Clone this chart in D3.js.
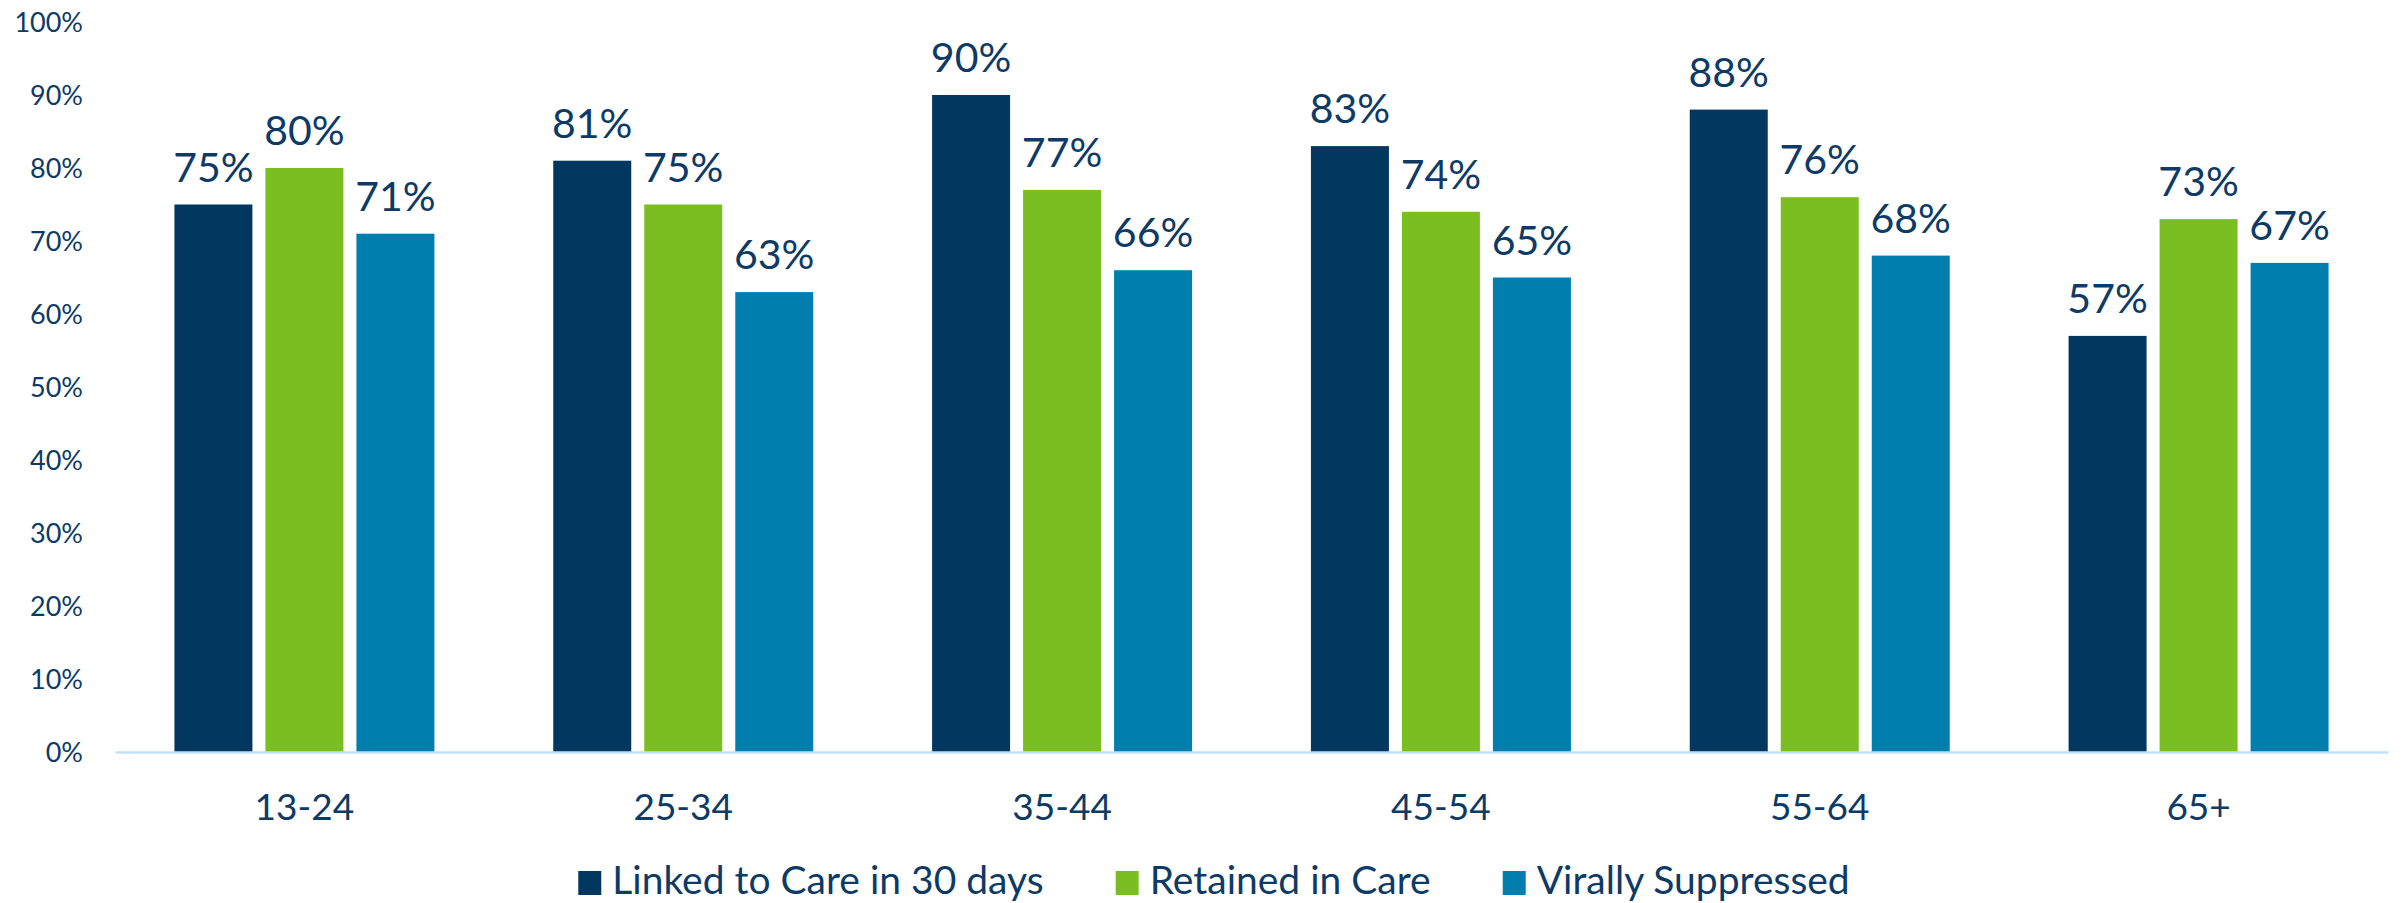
<!DOCTYPE html>
<html><head><meta charset="utf-8">
<script src="https://cdn.jsdelivr.net/npm/d3@7"></script>
<style>html,body{margin:0;padding:0;background:#fff;}svg{display:block;font-family:Lato,"Open Sans",sans-serif;}</style>
</head><body>
<svg id="chart" width="2403" height="903"></svg>
<script>
const categories = ["13-24","25-34","35-44","45-54","55-64","65+"];
const seriesNames = ["Linked to Care in 30 days","Retained in Care","Virally Suppressed"];
const linked = [75,81,90,83,88,57];
const retained = [80,75,77,74,76,73];
const suppressed = [71,63,66,65,68,67];
const yTicks = [0,10,20,30,40,50,60,70,80,90,100];
const colors = ["#02385f","#7abe22","#007faf"];
const textColor = "#0e3a66";

(function(){
const seriesValues = [linked, retained, suppressed];
const rows = categories.map((c,i)=>({cat:c, vals: seriesNames.map((s,j)=>({s, v: seriesValues[j][i], j}))}));

const svg = d3.select("#chart");
const mLeft = 115, mRight = 2388, mTop = 22, mBottom = 752;

const x0 = d3.scaleBand().domain(categories).range([mLeft,mRight]).padding(0);
const x1 = d3.scaleBand().domain(seriesNames).range([0,x0.bandwidth()]).paddingInner(0.143).paddingOuter(0.653);
const y = d3.scaleLinear().domain([0,100]).range([mBottom, mTop]);

// y axis labels
const yAxis = d3.axisLeft(y).tickValues(yTicks).tickFormat(d=>d+"%").tickSize(0).tickPadding(0);
const ya = svg.append("g").attr("transform","translate(83,0)").call(yAxis);
ya.select(".domain").remove();
ya.selectAll("text").attr("fill",textColor).attr("font-size",27).attr("font-family","Lato").attr("dy","0.35em");

// bars
const g = svg.append("g");
const grp = g.selectAll("g.grp").data(rows).join("g").attr("class","grp")
  .attr("transform", d=>`translate(${x0(d.cat)},0)`);
grp.selectAll("rect").data(d=>d.vals).join("rect")
  .attr("x", d=>x1(d.s)).attr("width", x1.bandwidth())
  .attr("y", d=>y(d.v)).attr("height", d=>y(0)-y(d.v))
  .attr("fill", d=>colors[d.j]);
grp.selectAll("text").data(d=>d.vals).join("text")
  .attr("x", d=>x1(d.s)+x1.bandwidth()/2).attr("y", d=>y(d.v)-23)
  .attr("text-anchor","middle").attr("fill",textColor).attr("font-size",41)
  .text(d=>d.v+"%");

// x axis
const xAxis = d3.axisBottom(x0).tickSize(0).tickPadding(0);
const xa = svg.append("g").attr("transform",`translate(0,${mBottom})`).call(xAxis);
xa.select(".domain").attr("stroke","#c5e0f6").attr("stroke-width",2.5);
xa.selectAll("text").attr("fill",textColor).attr("font-size",37).attr("font-family","Lato").attr("dy",null).attr("y",68);

// legend
const leg = svg.append("g");
const items = leg.selectAll("g").data(seriesNames).join("g");
items.append("rect").attr("width",23).attr("height",24).attr("y",871).attr("fill",(d,i)=>colors[i]);
items.append("text").attr("y",894).attr("fill",textColor).attr("font-size",39).text(d=>d);
let xpos = 0; const pos=[];
items.each(function(d,i){
  const w = d3.select(this).select("text").node().getComputedTextLength();
  pos.push(xpos); xpos += 23 + 11 + w + 72;
});
const total = xpos - 72;
const start = 1214 - total/2;
items.each(function(d,i){
  d3.select(this).select("rect").attr("x", start+pos[i]);
  d3.select(this).select("text").attr("x", start+pos[i]+34);
});
})();
</script>
</body></html>
